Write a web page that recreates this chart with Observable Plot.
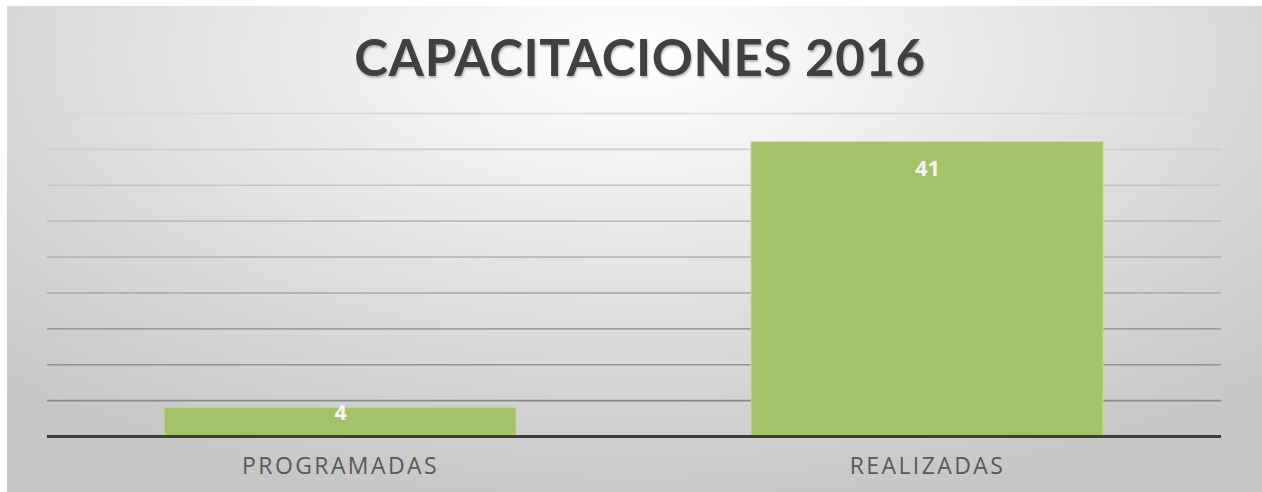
<!DOCTYPE html>
<html>
<head>
<meta charset="utf-8">
<script src="https://cdn.jsdelivr.net/npm/d3@7"></script>
<script src="https://cdn.jsdelivr.net/npm/@observablehq/plot@0.6"></script>
<style>
  html, body { margin: 0; padding: 0; background: #ffffff; width: 1262px; height: 492px; overflow: hidden; }
  #panel {
    position: absolute; left: 7px; top: 6px; width: 1255px; height: 486px;
    background: radial-gradient(ellipse 75% 95% at 50% 10%, #ffffff 0%, #f3f3f3 22%, #e2e2e2 50%, #d2d2d2 78%, #c6c6c6 100%);
  }
  #title {
    position: absolute; left: 0; top: 27px; width: 1280px; text-align: center;
    font-family: Lato, "Open Sans", sans-serif; font-weight: bold; font-size: 51px;
    letter-spacing: 0.6px; color: #404040; text-shadow: 1px 2px 2px rgba(0,0,0,0.25);
    line-height: 60px;
  }
  #chart { position: absolute; left: 0; top: 100px; }
</style>
</head>
<body>
<div id="panel"></div>
<div id="title">CAPACITACIONES 2016</div>
<div id="chart"></div>
<script>
const categories = ["PROGRAMADAS", "REALIZADAS"];
const values = [4, 41];
const gridTicks = [5, 10, 15, 20, 25, 30, 35, 40, 45];

const data = categories.map((c, i) => ({category: c, value: values[i]}));

const plot = Plot.plot({
  width: 1262,
  height: 392,
  marginTop: 13,
  marginBottom: 56,
  marginLeft: 47,
  marginRight: 41,
  style: {background: "transparent", overflow: "visible"},
  x: {domain: categories, paddingInner: 0.4, paddingOuter: 0.2, label: null},
  y: {domain: [0, 45], axis: null},
  color: {type: "linear", domain: [5, 45], range: ["#8a8a8a", "#d8d8d8"]},
  marks: [
    Plot.ruleY(gridTicks, {stroke: d => d, strokeWidth: 1.6}),
    Plot.barY(data, {x: "category", y: "value", fill: "#a4c26a", stroke: "#c4d89c", strokeWidth: 1}),
    Plot.ruleY([0], {stroke: "#3c3c3c", strokeWidth: 3}),
    Plot.text(data.filter(d => d.value >= 10), {
      x: "category", y: "value", text: d => String(d.value), dy: 27,
      fill: "#f4f4f4", fontSize: 22, fontWeight: "bold",
      fontFamily: "'Open Sans', sans-serif"
    }),
    Plot.text(data.filter(d => d.value < 10), {
      x: "category", y: "value", text: d => String(d.value), dy: 5,
      fill: "#f4f4f4", fontSize: 22, fontWeight: "bold",
      fontFamily: "'Open Sans', sans-serif"
    }),
    Plot.axisX({tickSize: 0, tickPadding: 21, fontSize: 23, fill: "#595959",
      fontFamily: "'Open Sans', sans-serif", label: null})
  ]
});
d3.select(plot).selectAll("g[aria-label='x-axis tick label'] text, g[aria-label^='x-axis'] text").style("letter-spacing", "2.4px");
document.getElementById("chart").appendChild(plot);
</script>
</body>
</html>
